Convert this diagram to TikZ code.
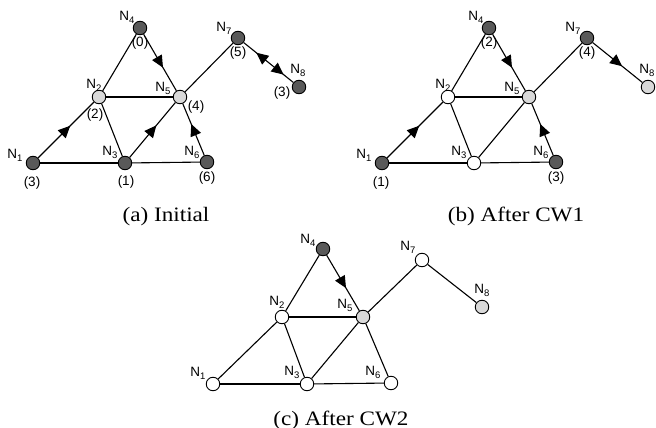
\documentclass[tikz,border=0pt]{standalone}
\usepackage{fontspec}
\setmainfont{Liberation Serif}
\newfontfamily\lblfont{Liberation Sans}
\usetikzlibrary{arrows.meta,decorations.markings,calc}

\definecolor{darkfill}{HTML}{595959}
\definecolor{lightfill}{HTML}{D9D9D9}

% vertex name with subscript index
\newcommand\vname[1]{N\raisebox{-0.22em}{\fontsize{9.5}{9.5}\selectfont #1}}

\tikzset{
  vtx/.style={circle,draw=black,line width=0.9pt,minimum size=13.5pt,inner sep=0pt},
  dark/.style={vtx,fill=darkfill},
  light/.style={vtx,fill=lightfill},
  blank/.style={vtx,fill=white},
  edge/.style={line width=1.1pt},
  fwd/.style={edge,postaction={decorate},
    decoration={markings,mark=at position 0.5 with {\arrow[xshift=6pt]{Triangle[length=12pt,width=11pt]}}}},
  both/.style={edge,postaction={decorate},
    decoration={markings,
      mark=at position 0.35 with {\arrowreversed[xshift=-6pt]{Triangle[length=12pt,width=11pt]}},
      mark=at position 0.71 with {\arrow[xshift=6pt]{Triangle[length=12pt,width=11pt]}}}},
  lbl/.style={font=\lblfont\fontsize{13.5}{13.5}\selectfont,inner sep=0pt},
  num/.style={font=\lblfont\fontsize{13.5}{13.5}\selectfont,inner sep=0pt},
  captext/.style={font=\fontsize{20.5}{20.5}\selectfont,inner sep=0pt,anchor=base,xscale=1.13},
}

\begin{document}
\begin{tikzpicture}[x=1pt,y=-1pt]
\useasboundingbox (0,0) rectangle (656,428);

% ---------- (a) Initial ----------
\node[dark]  (a1) at (33,163) {};
\node[light] (a2) at (99,97) {};
\node[dark]  (a3) at (125,163) {};
\node[dark]  (a4) at (140,28) {};
\node[light] (a5) at (180,97) {};
\node[dark]  (a6) at (207,162) {};
\node[dark]  (a7) at (238,38) {};
\node[dark]  (a8) at (299,87) {};

\draw[edge] (a1) -- (a3);
\draw[edge] (a3) -- (a6);
\draw[edge] (a2) -- (a5);
\draw[edge] (a2) -- (a3);
\draw[edge] (a2) -- (a4);
\draw[edge] (a5) -- (a7);
\draw[fwd] (a1) -- (a2);
\draw[fwd] (a4) -- (a5);
\draw[fwd] (a3) -- (a5);
\draw[fwd] (a6) -- (a5);
\draw[both] (a7) -- (a8);

\node[lbl] (la1) at ($(a1)+(-18,-8)$) {\vname{1}};
\node[lbl] (la2) at ($(a2)+(-5,-12)$) {\vname{2}};
\node[lbl] (la3) at ($(a3)+(-15,-11)$) {\vname{3}};
\node[lbl] (la4) at ($(a4)+(-13,-11)$) {\vname{4}};
\node[lbl] (la5) at ($(a5)+(-17,-9)$) {\vname{5}};
\node[lbl] (la6) at ($(a6)+(-15,-10)$) {\vname{6}};
\node[lbl] (la7) at ($(a7)+(-14,-10)$) {\vname{7}};
\node[lbl] (la8) at ($(a8)+(-1,-17)$) {\vname{8}};

\node[num] (na1) at ($(a1)+(-1,20)$) {(3)};
\node[num] (na2) at ($(a2)+(-4,18)$) {(2)};
\node[num] (na3) at ($(a3)+(1,19)$) {(1)};
\node[num] (na4) at ($(a4)+(0,15)$) {(0)};
\node[num] (na5) at ($(a5)+(16,10)$) {(4)};
\node[num] (na6) at ($(a6)+(0,16)$) {(6)};
\node[num] (na7) at ($(a7)+(0,15)$) {(5)};
\node[num] (na8) at ($(a8)+(-17,6)$) {(3)};

\node[captext] (capa) at (166,221) {(a) Initial};

% ---------- (b) After CW1 ----------
\begin{scope}[shift={(349,0)}]
\node[dark]  (b1) at (33,163) {};
\node[blank] (b2) at (99,97) {};
\node[blank] (b3) at (125,163) {};
\node[dark]  (b4) at (140,28) {};
\node[light] (b5) at (180,97) {};
\node[dark]  (b6) at (207,162) {};
\node[dark]  (b7) at (238,38) {};
\node[light] (b8) at (299,87) {};

\draw[edge] (b1) -- (b3);
\draw[edge] (b3) -- (b6);
\draw[edge] (b2) -- (b5);
\draw[edge] (b2) -- (b3);
\draw[edge] (b2) -- (b4);
\draw[edge] (b5) -- (b7);
\draw[edge] (b3) -- (b5);
\draw[fwd] (b1) -- (b2);
\draw[fwd] (b4) -- (b5);
\draw[fwd] (b6) -- (b5);
\draw[fwd] (b7) -- (b8);

\node[lbl] (lb1) at ($(b1)+(-18,-8)$) {\vname{1}};
\node[lbl] (lb2) at ($(b2)+(-5,-12)$) {\vname{2}};
\node[lbl] (lb3) at ($(b3)+(-15,-11)$) {\vname{3}};
\node[lbl] (lb4) at ($(b4)+(-13,-11)$) {\vname{4}};
\node[lbl] (lb5) at ($(b5)+(-17,-9)$) {\vname{5}};
\node[lbl] (lb6) at ($(b6)+(-15,-10)$) {\vname{6}};
\node[lbl] (lb7) at ($(b7)+(-14,-10)$) {\vname{7}};
\node[lbl] (lb8) at ($(b8)+(-1,-17)$) {\vname{8}};

\node[num] (nb1) at ($(b1)+(-1,20)$) {(1)};
\node[num] (nb4) at ($(b4)+(0,15)$) {(2)};
\node[num] (nb6) at ($(b6)+(0,16)$) {(3)};
\node[num] (nb7) at ($(b7)+(0,15)$) {(4)};
\end{scope}

\node[captext] (capb) at (516,221) {(b) After CW1};

% ---------- (c) After CW2 ----------
\node[blank] (c1) at (213,384) {};
\node[blank] (c2) at (282,317) {};
\node[blank] (c3) at (307,384) {};
\node[dark]  (c4) at (323,249) {};
\node[light] (c5) at (363,317) {};
\node[blank] (c6) at (391,383) {};
\node[blank] (c7) at (422,260) {};
\node[light] (c8) at (482,307) {};

\draw[edge] (c1) -- (c3);
\draw[edge] (c3) -- (c6);
\draw[edge] (c1) -- (c2);
\draw[edge] (c2) -- (c5);
\draw[edge] (c2) -- (c3);
\draw[edge] (c2) -- (c4);
\draw[edge] (c3) -- (c5);
\draw[edge] (c6) -- (c5);
\draw[edge] (c5) -- (c7);
\draw[edge] (c7) -- (c8);
\draw[fwd] (c4) -- (c5);

\node[lbl] (lc1) at ($(c1)+(-15,-11)$) {\vname{1}};
\node[lbl] (lc2) at ($(c2)+(-5,-15)$) {\vname{2}};
\node[lbl] (lc3) at ($(c3)+(-15,-12)$) {\vname{3}};
\node[lbl] (lc4) at ($(c4)+(-15,-9)$) {\vname{4}};
\node[lbl] (lc5) at ($(c5)+(-18,-12)$) {\vname{5}};
\node[lbl] (lc6) at ($(c6)+(-18,-11)$) {\vname{6}};
\node[lbl] (lc7) at ($(c7)+(-14,-13)$) {\vname{7}};
\node[lbl] (lc8) at ($(c8)+(0,-17)$) {\vname{8}};

\node[captext] (capc) at (341,425) {(c) After CW2};
\end{tikzpicture}
\end{document}
